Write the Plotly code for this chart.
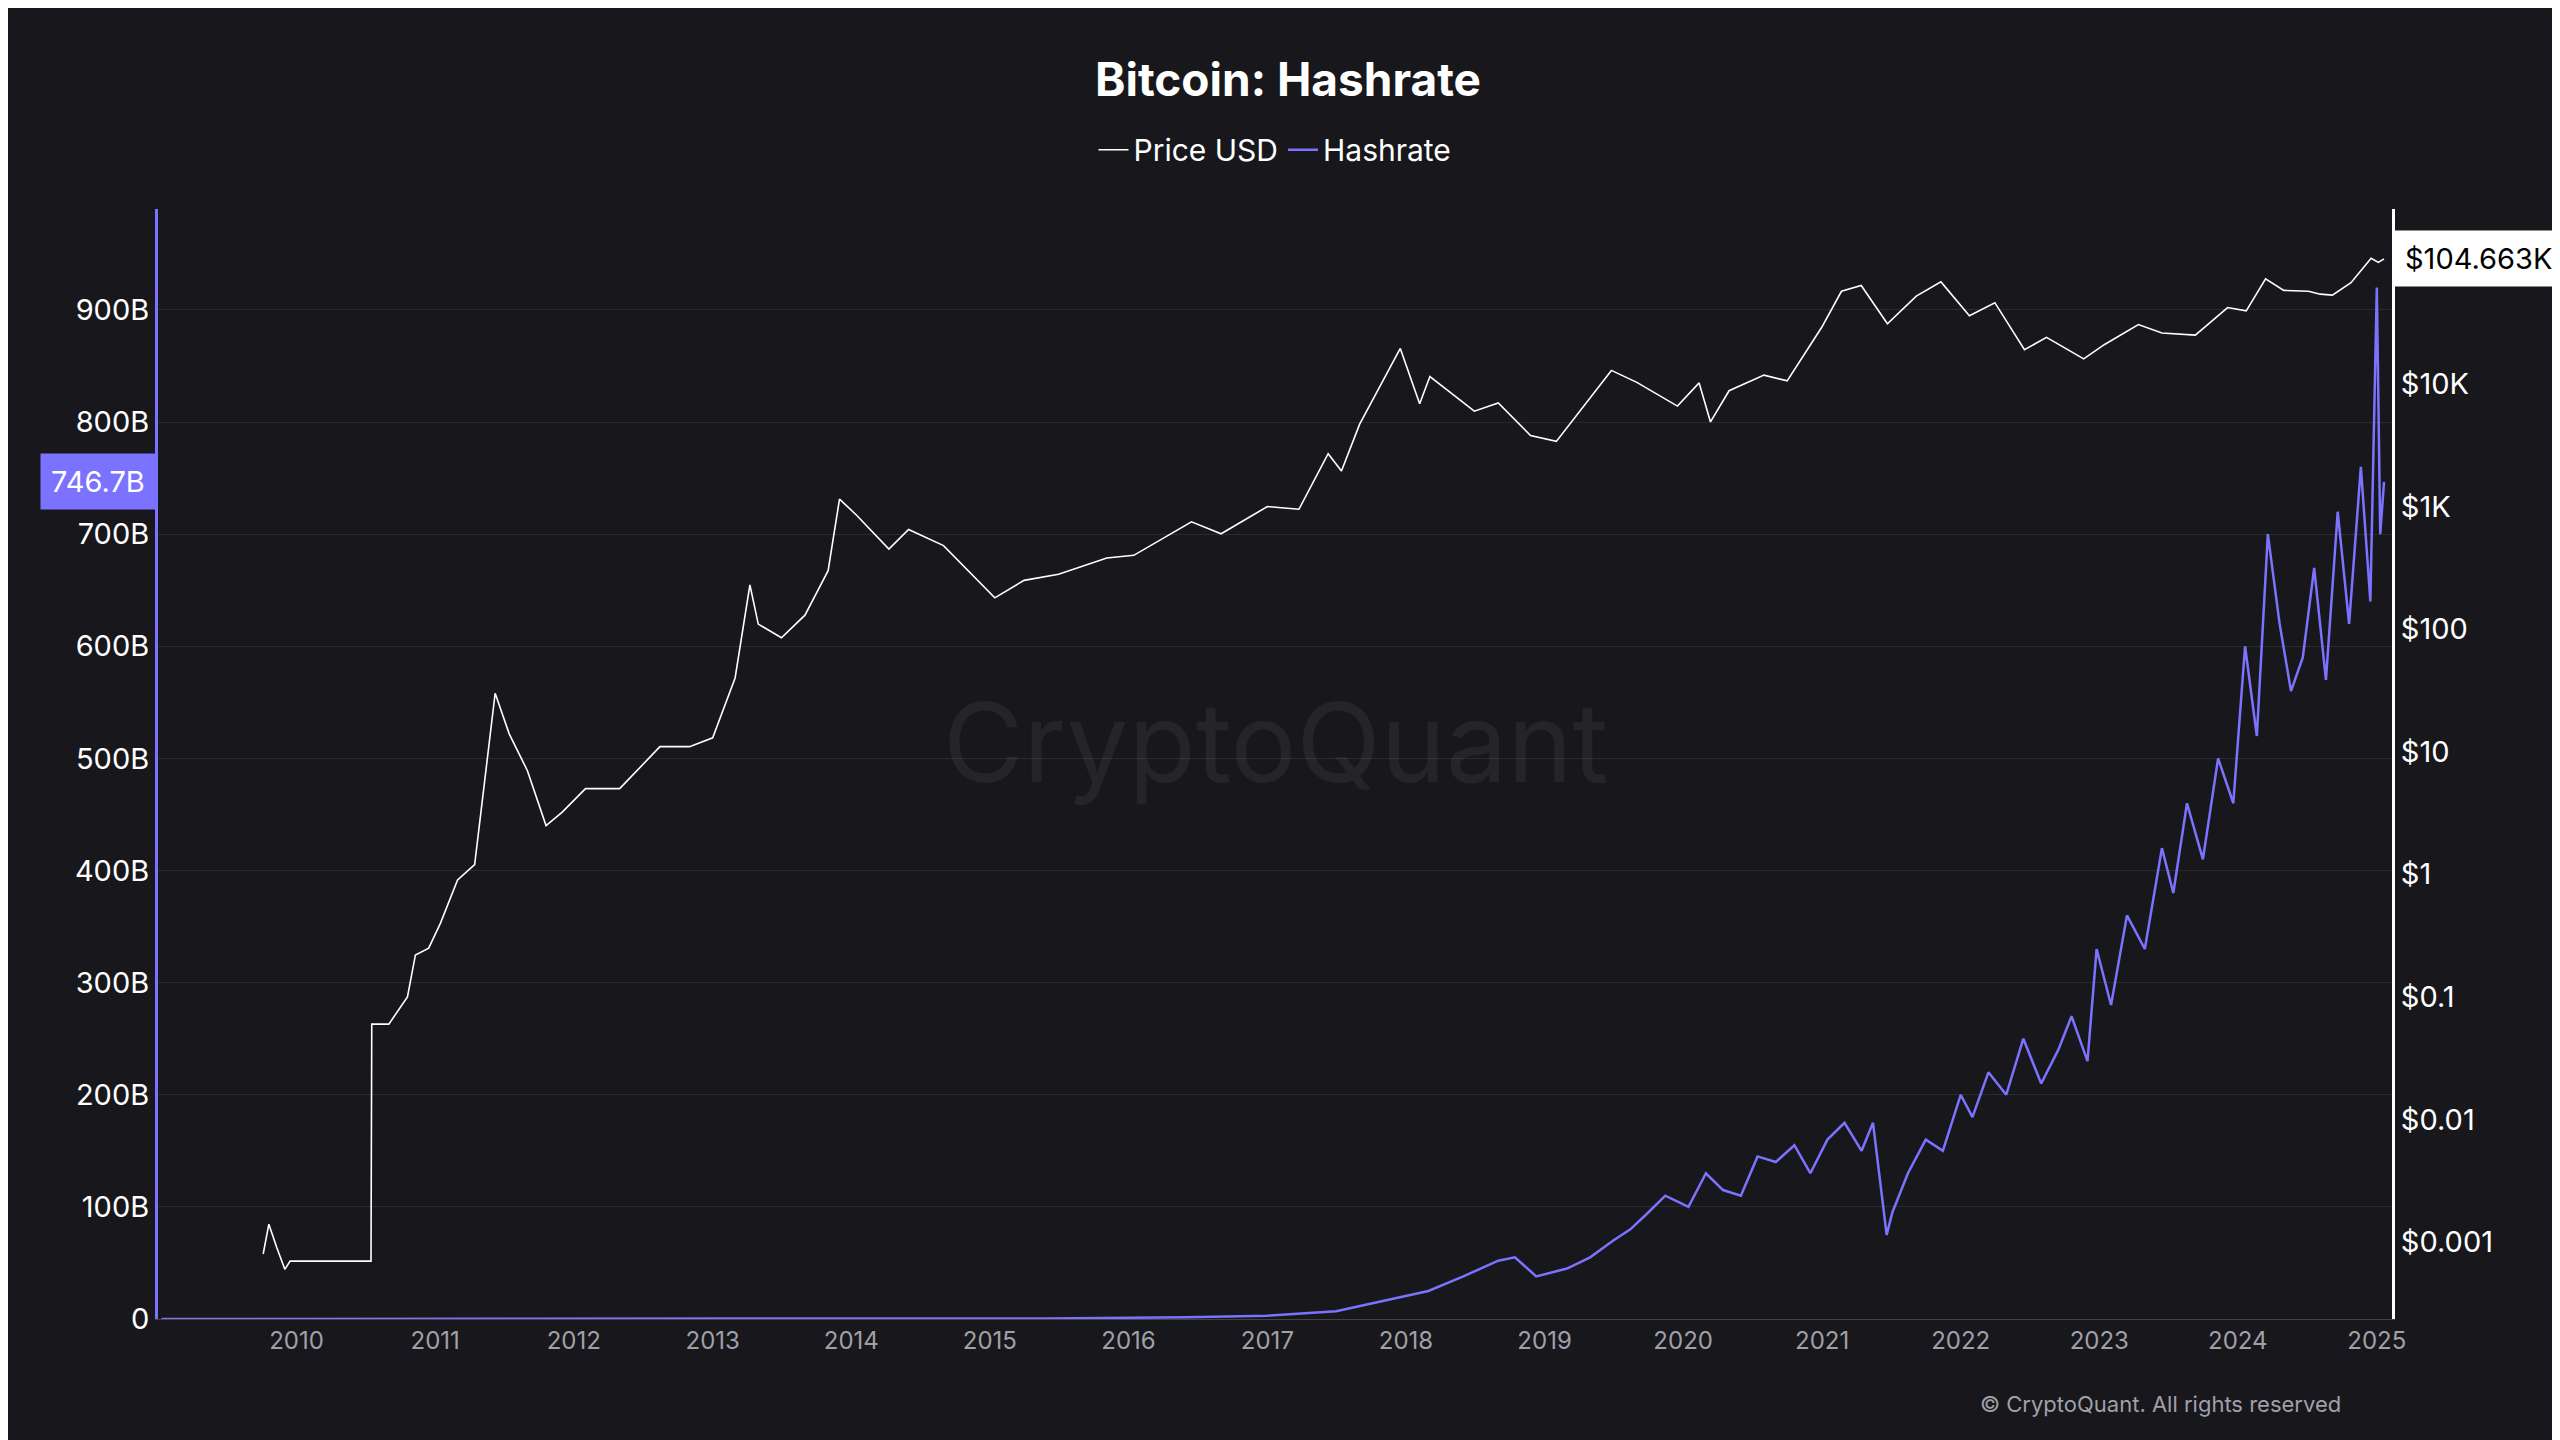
import plotly.graph_objects as go
import pandas as pd

price_dates = ["2009-10-05","2009-10-20","2009-11-10","2009-12-01","2009-12-15","2010-03-01","2010-07-16","2010-07-18","2010-09-01","2010-10-20","2010-11-10","2010-12-15","2011-01-15","2011-03-01","2011-04-15","2011-06-08","2011-07-15","2011-09-01","2011-10-20","2011-12-01","2012-02-01","2012-05-01","2012-08-15","2012-11-01","2013-01-01","2013-03-01","2013-04-09","2013-05-01","2013-07-01","2013-09-01","2013-11-01","2013-12-01","2014-01-15","2014-04-10","2014-06-01","2014-09-01","2015-01-14","2015-04-01","2015-07-01","2015-11-05","2016-01-15","2016-06-15","2016-09-01","2017-01-01","2017-03-25","2017-06-10","2017-07-15","2017-09-01","2017-12-17","2018-02-06","2018-03-05","2018-06-30","2018-09-01","2018-11-25","2019-02-01","2019-06-26","2019-09-01","2019-12-17","2020-02-12","2020-03-13","2020-05-01","2020-08-01","2020-10-01","2020-12-31","2021-02-21","2021-04-14","2021-06-22","2021-09-06","2021-11-10","2022-01-24","2022-04-01","2022-06-18","2022-08-15","2022-11-21","2023-01-15","2023-04-14","2023-06-15","2023-09-11","2023-12-05","2024-01-23","2024-03-14","2024-05-01","2024-07-05","2024-08-05","2024-09-06","2024-10-25","2024-12-17","2025-01-05","2025-01-20"]
price_usd = [0.0008,0.0014,0.0009,0.0006,0.0007,0.0007,0.0007,0.06,0.06,0.1,0.22,0.25,0.4,0.9,1.2,30,14,7,2.5,3.2,5,5,11,11,13,40,230,110,85,130,300,1150,850,450,650,480,180,250,280,380,400,750,600,1000,950,2700,1950,4700,19500,6900,11500,6000,7000,3800,3400,12900,10300,6600,10200,4900,8800,11800,10600,29000,57000,63500,31000,52000,68000,36000,46000,19000,24000,16000,21000,30500,26000,25000,42000,39500,72000,58000,57000,54000,53000,67000,106000,98000,104663]

hash_dates = ["2009-01-10","2012-01-01","2014-01-01","2015-06-01","2016-06-01","2017-01-01","2017-07-01","2017-12-01","2018-03-01","2018-06-01","2018-09-01","2018-10-15","2018-12-10","2019-03-01","2019-05-01","2019-07-01","2019-08-15","2019-10-01","2019-11-15","2020-01-15","2020-03-01","2020-04-15","2020-06-01","2020-07-15","2020-09-01","2020-10-20","2020-12-01","2021-01-15","2021-03-01","2021-04-15","2021-05-15","2021-06-20","2021-07-05","2021-08-15","2021-10-01","2021-11-15","2022-01-01","2022-02-01","2022-03-15","2022-05-01","2022-06-15","2022-08-01","2022-09-15","2022-10-20","2022-12-01","2022-12-25","2023-02-01","2023-03-15","2023-05-01","2023-06-15","2023-07-15","2023-08-20","2023-10-01","2023-11-10","2023-12-20","2024-01-20","2024-02-20","2024-03-20","2024-04-20","2024-05-20","2024-06-20","2024-07-20","2024-08-20","2024-09-20","2024-10-20","2024-11-20","2024-12-15","2025-01-01","2025-01-10","2025-01-20"]
hashrate_b = [0,0.05,0.02,0.5,1.5,3,7,18,25,38,52,55,38,45,55,70,80,95,110,100,130,115,110,145,140,155,130,160,175,150,175,75,95,130,160,150,200,180,220,200,250,210,240,270,230,330,280,360,330,420,380,460,410,500,460,600,520,700,620,560,590,670,570,720,620,760,640,920,700,746.7]

fig = go.Figure()
fig.add_trace(go.Scatter(x=pd.to_datetime(price_dates), y=price_usd, name="Price USD",
                         line=dict(color="#ffffff", width=1.6), yaxis="y2"))
fig.add_trace(go.Scatter(x=pd.to_datetime(hash_dates), y=hashrate_b, name="Hashrate",
                         line=dict(color="#7b73ff", width=2.5), yaxis="y"))

bg = "#17171c"
lt = [0, 100, 200, 300, 400, 500, 600, 700, 800, 900]
rt = [0.001, 0.01, 0.1, 1, 10, 100, 1000, 10000]
rtt = ["$0.001", "$0.01", "$0.1", "$1", "$10", "$100", "$1K", "$10K"]
years = [f"{y}-01-01" for y in range(2010, 2026)]

fig.update_layout(
    width=2560, height=1440, paper_bgcolor=bg, plot_bgcolor=bg,
    font=dict(family="Inter, Roboto, sans-serif", color="#ffffff", size=28),
    title=dict(text="<b>Bitcoin: Hashrate</b>", x=0.5, y=0.95, xanchor="center", yanchor="middle", font=dict(size=46)),
    legend=dict(orientation="h", x=0.5, xanchor="center", y=1.03, yanchor="bottom", font=dict(size=30)),
    margin=dict(l=150, r=176, t=201, b=129),
    xaxis=dict(range=["2009-01-01", "2025-02-10"], tickvals=years, ticktext=[y[:4] for y in years],
               showgrid=False, tickfont=dict(size=24, color="#a0a0a8"), ticks="", zeroline=False,
               showline=True, linecolor="#444"),
    yaxis=dict(range=[0, 990], tickvals=lt, ticktext=["0"] + [f"{v}B" for v in lt[1:]],
               gridcolor="#2a2a31", showline=True, linecolor="#7b73ff", linewidth=3, zeroline=False,
               tickfont=dict(size=29, color="#ffffff")),
    yaxis2=dict(type="log", range=[-3.627, 5.427], overlaying="y", side="right", tickvals=rt, ticktext=rtt,
                showgrid=False, showline=True, linecolor="#ffffff", linewidth=3, zeroline=False,
                tickfont=dict(size=29, color="#ffffff")),
)
fig.add_annotation(text="CryptoQuant", x=0.5, y=0.52, xref="paper", yref="paper", showarrow=False,
                   font=dict(size=110, color="rgba(255,255,255,0.06)"))
fig.add_annotation(text="© CryptoQuant. All rights reserved", x=0.978, y=-0.077, xref="paper", yref="paper",
                   xanchor="right", yanchor="middle", showarrow=False,
                   font=dict(size=22, color="#a0a0a8"))
fig.add_annotation(text="746.7B", x=0, xref="paper", y=746.7, yref="y", xanchor="right", showarrow=False,
                   bgcolor="#7b73ff", font=dict(size=29, color="#ffffff"), borderpad=10, xshift=-2)
fig.add_annotation(text="$104.663K", x=1, xref="paper", y=5.0198, yref="y2", xanchor="left", showarrow=False,
                   bgcolor="#ffffff", font=dict(size=29, color="#000000"), borderpad=10, xshift=2)
fig.write_html("out.html")
